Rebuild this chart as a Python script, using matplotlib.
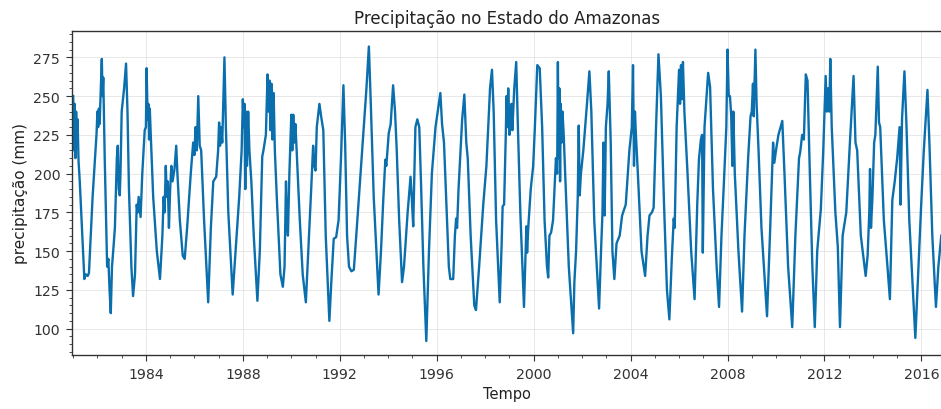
import numpy as np
import matplotlib
matplotlib.use("Agg")
import matplotlib.pyplot as plt
from matplotlib.ticker import MultipleLocator

# values (decimal year, mm)
years_a = [1981.00, 1981.03, 1981.06, 1981.09, 1981.12, 1981.15, 1981.18, 1981.22, 1981.27,
           1981.46, 1981.52, 1981.60, 1981.65, 1981.80, 1981.96, 1982.00, 1982.03, 1982.06,
           1982.09, 1982.14, 1982.18, 1982.21, 1982.24, 1982.30, 1982.40, 1982.45, 1982.50,
           1982.55, 1982.60, 1982.65, 1982.72, 1982.80, 1982.84, 1982.88, 1982.92, 1982.95,
           1983.00, 1983.10, 1983.18, 1983.24, 1983.30, 1983.40, 1983.47, 1983.55, 1983.62,
           1983.66, 1983.70, 1983.78, 1983.85, 1983.95, 1984.00, 1984.03, 1984.07, 1984.10,
           1984.13, 1984.16, 1984.20, 1984.30, 1984.45, 1984.58, 1984.68, 1984.73, 1984.77,
           1984.82, 1984.86, 1984.90, 1984.95, 1985.00, 1985.05, 1985.10, 1985.18, 1985.25,
           1985.30, 1985.40, 1985.52, 1985.60, 1985.70, 1985.85, 1985.95, 1986.00, 1986.05,
           1986.10, 1986.16, 1986.22, 1986.28, 1986.40, 1986.57, 1986.68, 1986.78, 1986.90,
           1986.98, 1987.02, 1987.06, 1987.10, 1987.15, 1987.24, 1987.30, 1987.40, 1987.58,
           1987.70, 1987.85, 1987.95, 1988.00, 1988.04, 1988.07, 1988.10, 1988.13, 1988.17,
           1988.22, 1988.27, 1988.35, 1988.45, 1988.60, 1988.70, 1988.80, 1988.85, 1988.95,
           1989.02, 1989.06, 1989.10, 1989.14, 1989.18, 1989.22, 1989.27, 1989.32, 1989.40,
           1989.55, 1989.65, 1989.72, 1989.78, 1989.82, 1989.86, 1989.92, 1990.00, 1990.04,
           1990.08, 1990.12, 1990.17, 1990.22, 1990.35, 1990.47, 1990.60, 1990.70, 1990.82,
           1990.90, 1990.95]
precip_a = [250, 215, 245, 210, 240, 220, 235, 208, 195,
            132, 135, 134, 136, 185, 225, 240, 230, 242,
            232, 255, 274, 250, 262, 210, 140, 145, 125,
            110, 140, 150, 165, 210, 218, 190, 186, 200,
            240, 255, 271, 240, 190, 140, 121, 135, 180,
            175, 185, 172, 200, 228, 230, 268, 235, 245,
            222, 242, 225, 185, 150, 132, 160, 185, 175,
            205, 185, 195, 165, 190, 205, 195, 203, 218,
            200, 170, 147, 145, 165, 200, 220, 212, 230,
            215, 250, 218, 215, 170, 117, 165, 195, 198,
            215, 233, 218, 230, 220, 275, 230, 175, 122,
            150, 185, 215, 248, 230, 245, 190, 240, 205,
            240, 215, 195, 160, 118, 150, 211, 215, 225,
            264, 240, 260, 228, 258, 222, 252, 215, 185,
            135, 127, 140, 195, 170, 160, 200, 238, 215,
            238, 220, 232, 215, 170, 135, 117, 150, 190,
            218, 205]

years_b = [1991.00, 1991.05, 1991.16, 1991.22, 1991.32, 1991.42, 1991.57, 1991.65, 1991.75,
           1991.85, 1991.95, 1992.05, 1992.15, 1992.22, 1992.30, 1992.38, 1992.48, 1992.58,
           1992.68, 1992.90, 1993.10, 1993.20, 1993.28, 1993.40, 1993.60, 1993.70, 1993.80,
           1993.88, 1993.92, 1994.02, 1994.10, 1994.20, 1994.28, 1994.35, 1994.45, 1994.57,
           1994.65, 1994.80, 1994.92, 1994.97, 1995.03, 1995.12, 1995.20, 1995.28, 1995.35,
           1995.45, 1995.57, 1995.68, 1995.80, 1995.95, 1996.15, 1996.22, 1996.30, 1996.40,
           1996.50, 1996.56, 1996.68, 1996.75, 1996.80, 1996.84, 1996.90, 1997.05, 1997.14,
           1997.22, 1997.28, 1997.40, 1997.55, 1997.62, 1997.75, 1997.92, 1998.05, 1998.20,
           1998.28, 1998.35, 1998.45, 1998.60, 1998.68, 1998.72, 1998.78, 1998.85, 1998.88,
           1998.92, 1998.95, 1999.00, 1999.04, 1999.08, 1999.12, 1999.20, 1999.28, 1999.35,
           1999.45, 1999.60, 1999.65, 1999.70, 1999.73, 1999.78, 1999.88, 1999.98, 2000.05,
           2000.15, 2000.25, 2000.35, 2000.45, 2000.55, 2000.60, 2000.65, 2000.72, 2000.80,
           2000.92, 2000.97]
precip_b = [202, 230, 245, 238, 228, 160, 105, 130, 158,
            159, 170, 210, 257, 220, 160, 140, 137, 138,
            160, 210, 255, 282, 245, 185, 122, 150, 185,
            209, 205, 226, 232, 257, 240, 215, 170, 130,
            140, 175, 198, 185, 166, 230, 235, 230, 195,
            140, 92, 150, 200, 230, 252, 232, 220, 180,
            140, 132, 132, 160, 171, 165, 190, 235, 251,
            220, 210, 160, 115, 112, 140, 180, 205, 255,
            267, 240, 170, 117, 155, 179, 180, 225, 250,
            230, 255, 225, 240, 245, 228, 255, 272, 230,
            175, 114, 140, 166, 149, 166, 190, 205, 230,
            270, 268, 230, 170, 140, 133, 160, 162, 170,
            210, 200]

years_c = [2001.00, 2001.03, 2001.06, 2001.09, 2001.12, 2001.15, 2001.19, 2001.24, 2001.30,
           2001.45, 2001.63, 2001.68, 2001.75, 2001.82, 2001.86, 2001.90, 2001.95, 2002.05,
           2002.20, 2002.30, 2002.38, 2002.50, 2002.70, 2002.78, 2002.84, 2002.88, 2002.93,
           2002.98, 2003.05, 2003.10, 2003.18, 2003.25, 2003.33, 2003.42, 2003.55, 2003.65,
           2003.80, 2003.95, 2004.05, 2004.10, 2004.14, 2004.18, 2004.22, 2004.30, 2004.45,
           2004.60, 2004.70, 2004.78, 2004.88, 2004.95, 2005.05, 2005.15, 2005.25, 2005.38,
           2005.50, 2005.60, 2005.70, 2005.78, 2005.82, 2005.90, 2006.00, 2006.04, 2006.08,
           2006.12, 2006.16, 2006.22, 2006.35, 2006.50, 2006.64, 2006.75, 2006.82, 2006.90,
           2006.95, 2006.98, 2007.05, 2007.20, 2007.28, 2007.40, 2007.55, 2007.65, 2007.75,
           2007.85, 2007.95, 2008.00, 2008.05, 2008.10, 2008.15, 2008.20, 2008.24, 2008.30,
           2008.45, 2008.60, 2008.70, 2008.85, 2008.95, 2009.00, 2009.05, 2009.08, 2009.15,
           2009.20, 2009.28, 2009.40, 2009.63, 2009.75, 2009.88, 2009.93, 2010.00, 2010.10,
           2010.26, 2010.35, 2010.50, 2010.67, 2010.80, 2010.95]
precip_c = [272, 210, 255, 195, 245, 220, 240, 225, 200,
            140, 97, 130, 150, 185, 231, 186, 200, 215,
            245, 266, 240, 170, 113, 150, 175, 220, 173,
            230, 245, 266, 220, 150, 132, 155, 160, 173,
            180, 215, 230, 270, 205, 240, 225, 200, 150,
            134, 160, 173, 175, 178, 230, 277, 250, 180,
            125, 106, 145, 171, 165, 230, 267, 245, 270,
            248, 272, 240, 200, 150, 119, 180, 209, 222,
            225, 149, 230, 265, 256, 190, 140, 114, 160,
            194, 230, 280, 250, 250, 238, 205, 240, 200,
            150, 111, 160, 210, 237, 240, 258, 237, 280,
            245, 215, 165, 108, 160, 220, 207, 215, 225,
            234, 200, 140, 101, 160, 210]

years_d = [2011.00, 2011.08, 2011.15, 2011.23, 2011.30, 2011.38, 2011.50, 2011.60, 2011.70,
           2011.85, 2011.95, 2012.05, 2012.10, 2012.15, 2012.20, 2012.24, 2012.30, 2012.45,
           2012.55, 2012.64, 2012.75, 2012.90, 2013.05, 2013.20, 2013.28, 2013.35, 2013.50,
           2013.70, 2013.78, 2013.85, 2013.88, 2013.92, 2013.98, 2014.05, 2014.10, 2014.20,
           2014.25, 2014.30, 2014.45, 2014.60, 2014.70, 2014.80, 2014.90, 2015.00, 2015.10,
           2015.14, 2015.20, 2015.30, 2015.38, 2015.50, 2015.75, 2015.85, 2016.00, 2016.10,
           2016.25, 2016.33, 2016.45, 2016.60, 2016.70, 2016.82]
precip_d = [214, 225, 222, 264, 260, 210, 140, 101, 150,
            177, 215, 263, 240, 255, 240, 274, 230, 175,
            153, 101, 160, 175, 220, 263, 220, 215, 160,
            134, 147, 175, 203, 165, 185, 220, 225, 269,
            233, 230, 170, 140, 119, 183, 195, 210, 230,
            180, 235, 266, 233, 170, 94, 130, 183, 215,
            254, 220, 160, 114, 140, 160]

year_ticks = [1984, 1988, 1992, 1996, 2000, 2004, 2008, 2012, 2016]
precip_ticks = [100, 125, 150, 175, 200, 225, 250, 275]

years = np.array(years_a + years_b + years_c + years_d)
precip = np.array(precip_a + precip_b + precip_c + precip_d)

plt.rcParams['font.family'] = ['DejaVu Sans']

fig = plt.figure(figsize=(9.41, 4.10), dpi=100)
ax = fig.add_axes([72 / 941, 54 / 410, 870 / 941, 324 / 410])

ax.plot(years, precip, color='#0b6fae', lw=1.7, solid_joinstyle='round')

ax.set_xlim(1980.95, 2016.85)
ax.set_ylim(83, 292)
ax.set_xticks(year_ticks)
ax.set_xticklabels([str(y) for y in year_ticks])
ax.set_yticks(precip_ticks)
ax.xaxis.set_minor_locator(MultipleLocator(1))
ax.yaxis.set_minor_locator(MultipleLocator(5))

ax.tick_params(which='major', direction='out', length=4.5, width=0.8, labelsize=10.2,
               colors='#333333', pad=4)
ax.tick_params(which='minor', direction='out', length=2.5, width=0.6, colors='#333333')
ax.grid(which='major', color='#e4e4e4', lw=0.6)
ax.set_axisbelow(True)
for s in ax.spines.values():
    s.set_linewidth(1.0)
    s.set_color('#333333')

ax.set_title('Precipitação no Estado do Amazonas', fontsize=12, pad=6, color='#222222')
ax.set_xlabel('Tempo', fontsize=10.5, color='#222222')
ax.set_ylabel('precipitação (mm)', fontsize=11, color='#222222')

fig.savefig('out.png', dpi=100)
